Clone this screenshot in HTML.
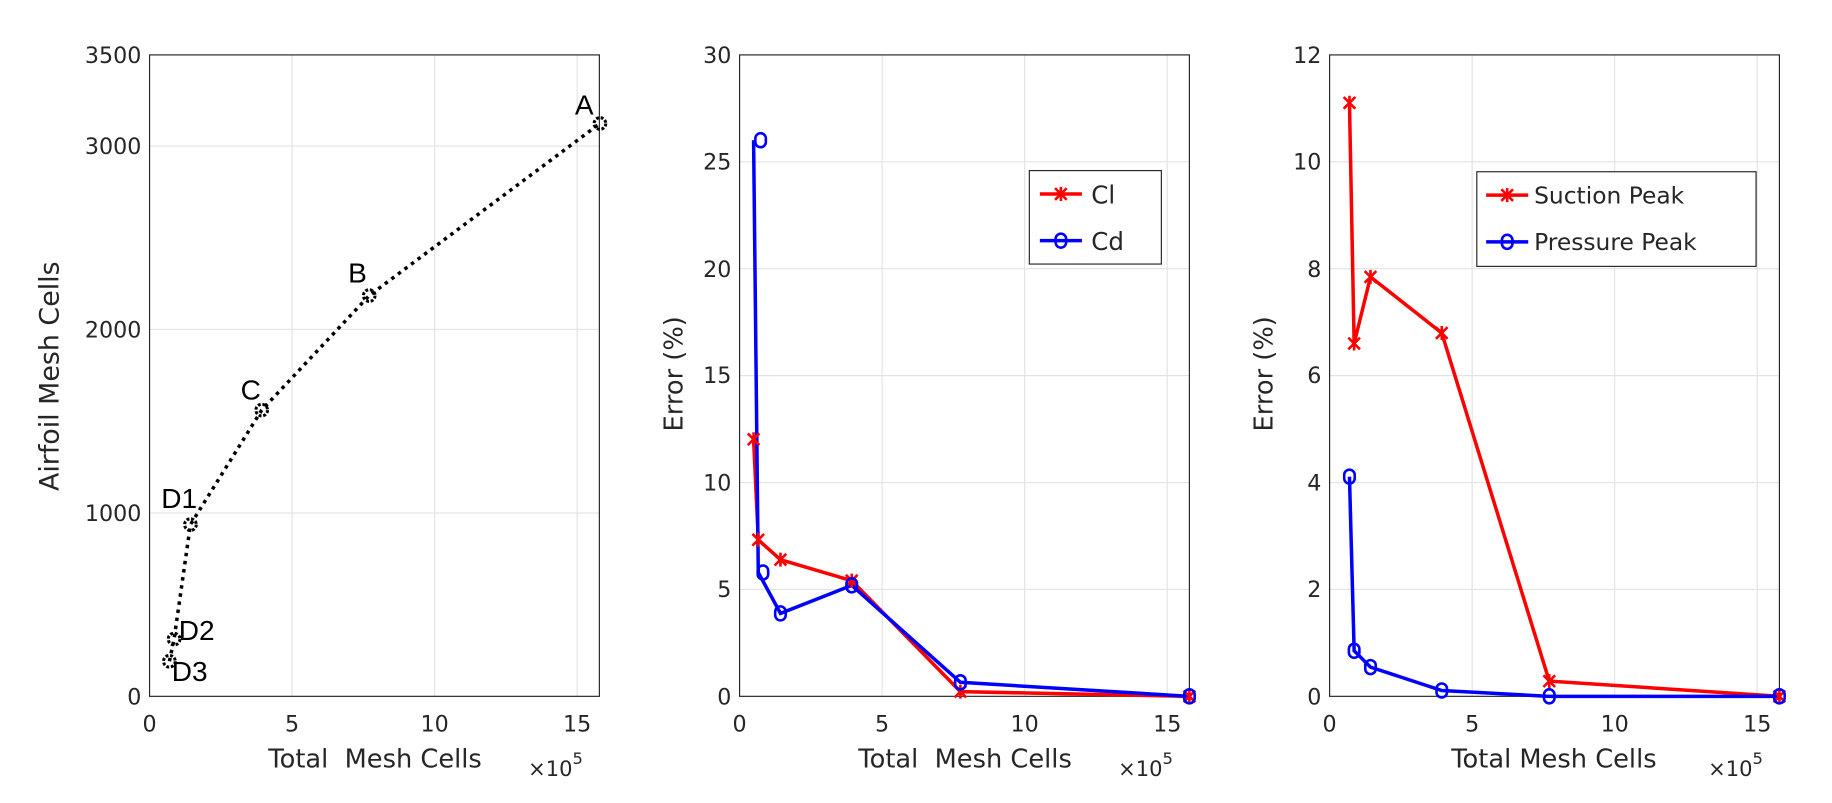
<!DOCTYPE html>
<html><head><meta charset="utf-8"><style>
html,body{margin:0;padding:0;background:#fff;}
svg{display:block;}
text{font-family:"DejaVu Sans","Liberation Sans",sans-serif;fill:#262626;}
.lab{font-family:"Liberation Sans",sans-serif;fill:#000;}
</style></head><body>
<svg width="1832" height="803" viewBox="0 0 1568 687.3" preserveAspectRatio="none" xmlns="http://www.w3.org/2000/svg">
<defs>
<g id="xm"><path d="M-5,-5L5,5M-5,5L5,-5M0,-6L0,6" stroke="#f00" stroke-width="2.2" fill="none"/></g>
<g id="om"><rect x="-4.5" y="-6" width="9" height="12" rx="4.5" stroke="#00f" stroke-width="2.2" fill="none"/></g>
<g id="km"><circle r="5" stroke="#000" stroke-width="2.6" fill="none" stroke-dasharray="2.5 1.5"/></g>
</defs>
<g stroke="#e3e3e3" stroke-width="1">
<line x1="250" y1="47" x2="250" y2="596"/><line x1="372" y1="47" x2="372" y2="596"/><line x1="494" y1="47" x2="494" y2="596"/>
<line x1="128" y1="439" x2="513" y2="439"/><line x1="128" y1="282" x2="513" y2="282"/><line x1="128" y1="125" x2="513" y2="125"/>
<line x1="755" y1="47" x2="755" y2="596"/><line x1="877" y1="47" x2="877" y2="596"/><line x1="999" y1="47" x2="999" y2="596"/>
<line x1="633" y1="504.5" x2="1018" y2="504.5"/><line x1="633" y1="413" x2="1018" y2="413"/><line x1="633" y1="321.5" x2="1018" y2="321.5"/><line x1="633" y1="230" x2="1018" y2="230"/><line x1="633" y1="138.5" x2="1018" y2="138.5"/>
<line x1="1260" y1="47" x2="1260" y2="596"/><line x1="1382" y1="47" x2="1382" y2="596"/><line x1="1504" y1="47" x2="1504" y2="596"/>
<line x1="1138" y1="504.5" x2="1523" y2="504.5"/><line x1="1138" y1="413" x2="1523" y2="413"/><line x1="1138" y1="321.5" x2="1523" y2="321.5"/><line x1="1138" y1="230" x2="1523" y2="230"/><line x1="1138" y1="138.5" x2="1523" y2="138.5"/>
</g>
<g fill="none" stroke="#262626" stroke-width="1">
<rect x="128" y="47" width="385" height="549"/>
<rect x="633" y="47" width="385" height="549"/>
<rect x="1138" y="47" width="385" height="549"/>
</g>
<polyline points="145,566 149,547 163,449 224,351 316,253 513.5,105.7" fill="none" stroke="#000" stroke-width="3" stroke-dasharray="3 4"/>
<use href="#km" x="145" y="566"/><use href="#km" x="149" y="547"/><use href="#km" x="163" y="449"/><use href="#km" x="224" y="351"/><use href="#km" x="316" y="253"/><use href="#km" x="513.5" y="105.7"/>
<g style="font-size:24px">
<text class="lab" x="492" y="98">A</text><text class="lab" x="298" y="242">B</text><text class="lab" x="206" y="342">C</text>
<text class="lab" x="138" y="435">D1</text><text class="lab" x="153" y="548">D2</text><text class="lab" x="147" y="583">D3</text>
</g>
<g style="font-size:19px" text-anchor="end">
<text x="121" y="603">0</text><text x="121" y="446">1000</text><text x="121" y="289">2000</text><text x="121" y="132">3000</text><text x="121" y="54">3500</text>
<text x="626" y="603">0</text><text x="626" y="511">5</text><text x="626" y="420">10</text><text x="626" y="328">15</text><text x="626" y="237">20</text><text x="626" y="145">25</text><text x="626" y="54">30</text>
<text x="1131" y="603">0</text><text x="1131" y="511">2</text><text x="1131" y="420">4</text><text x="1131" y="328">6</text><text x="1131" y="237">8</text><text x="1131" y="145">10</text><text x="1131" y="54">12</text>
</g>
<g style="font-size:19px" text-anchor="middle">
<text x="128" y="626">0</text><text x="250" y="626">5</text><text x="372" y="626">10</text><text x="494" y="626">15</text>
<text x="633" y="626">0</text><text x="755" y="626">5</text><text x="877" y="626">10</text><text x="999" y="626">15</text>
<text x="1138" y="626">0</text><text x="1260" y="626">5</text><text x="1382" y="626">10</text><text x="1504" y="626">15</text>
</g>
<g style="font-size:22px" text-anchor="middle">
<text x="321" y="657" xml:space="preserve">Total  Mesh Cells</text>
<text x="826" y="657" xml:space="preserve">Total  Mesh Cells</text>
<text x="1330" y="657">Total Mesh Cells</text>
<text transform="translate(50,322) rotate(-90)" style="font-size:23px">Airfoil Mesh Cells</text>
<text transform="translate(584,320) rotate(-90)">Error (%)</text>
<text transform="translate(1089,320) rotate(-90)">Error (%)</text>
</g>
<g style="font-size:18px">
<text x="452" y="664">×10<tspan dy="-10" style="font-size:14px">5</tspan></text>
<text x="957" y="664">×10<tspan dy="-10" style="font-size:14px">5</tspan></text>
<text x="1462" y="664">×10<tspan dy="-10" style="font-size:14px">5</tspan></text>
</g>
<polyline points="645,376 649,462 668,479 729,497 822,592 1018,596" fill="none" stroke="#f00" stroke-width="3"/>
<polyline points="645,120 649,490 668,525 729,501 822,584 1018,596" fill="none" stroke="#00f" stroke-width="3"/>
<use href="#xm" x="645" y="376"/><use href="#xm" x="649" y="462"/><use href="#xm" x="668" y="479"/><use href="#xm" x="729" y="497"/><use href="#xm" x="822" y="592"/><use href="#xm" x="1018" y="596"/>
<use href="#om" x="651" y="120"/><use href="#om" x="653" y="490"/><use href="#om" x="668" y="525"/><use href="#om" x="729" y="501"/><use href="#om" x="822" y="584"/><use href="#om" x="1018" y="596"/>
<rect x="881" y="146" width="113" height="80" fill="#fff" stroke="#262626" stroke-width="1"/>
<line x1="890" y1="166" x2="926" y2="166" stroke="#f00" stroke-width="3"/><use href="#xm" x="908" y="166"/>
<line x1="890" y1="206" x2="926" y2="206" stroke="#00f" stroke-width="3"/><use href="#om" x="908" y="206"/>
<g style="font-size:21px"><text x="934" y="174">Cl</text><text x="934" y="214">Cd</text></g>
<polyline points="1155,88 1159,294 1173,237 1234,285 1326,583 1523,596" fill="none" stroke="#f00" stroke-width="3"/>
<polyline points="1155,408 1159,557 1173,571 1234,591 1326,596 1523,596" fill="none" stroke="#00f" stroke-width="3"/>
<use href="#xm" x="1155" y="88"/><use href="#xm" x="1159" y="294"/><use href="#xm" x="1173" y="237"/><use href="#xm" x="1234" y="285"/><use href="#xm" x="1326" y="583"/><use href="#xm" x="1523" y="596"/>
<use href="#om" x="1155" y="408"/><use href="#om" x="1159" y="557"/><use href="#om" x="1173" y="571"/><use href="#om" x="1234" y="591"/><use href="#om" x="1326" y="596"/><use href="#om" x="1523" y="596"/>
<rect x="1264" y="147" width="239" height="81" fill="#fff" stroke="#262626" stroke-width="1"/>
<line x1="1272" y1="167" x2="1308" y2="167" stroke="#f00" stroke-width="3"/><use href="#xm" x="1290" y="167"/>
<line x1="1272" y1="207" x2="1308" y2="207" stroke="#00f" stroke-width="3"/><use href="#om" x="1290" y="207"/>
<g style="font-size:20px"><text x="1313" y="174">Suction Peak</text><text x="1313" y="214">Pressure Peak</text></g>
</svg>
</body></html>
